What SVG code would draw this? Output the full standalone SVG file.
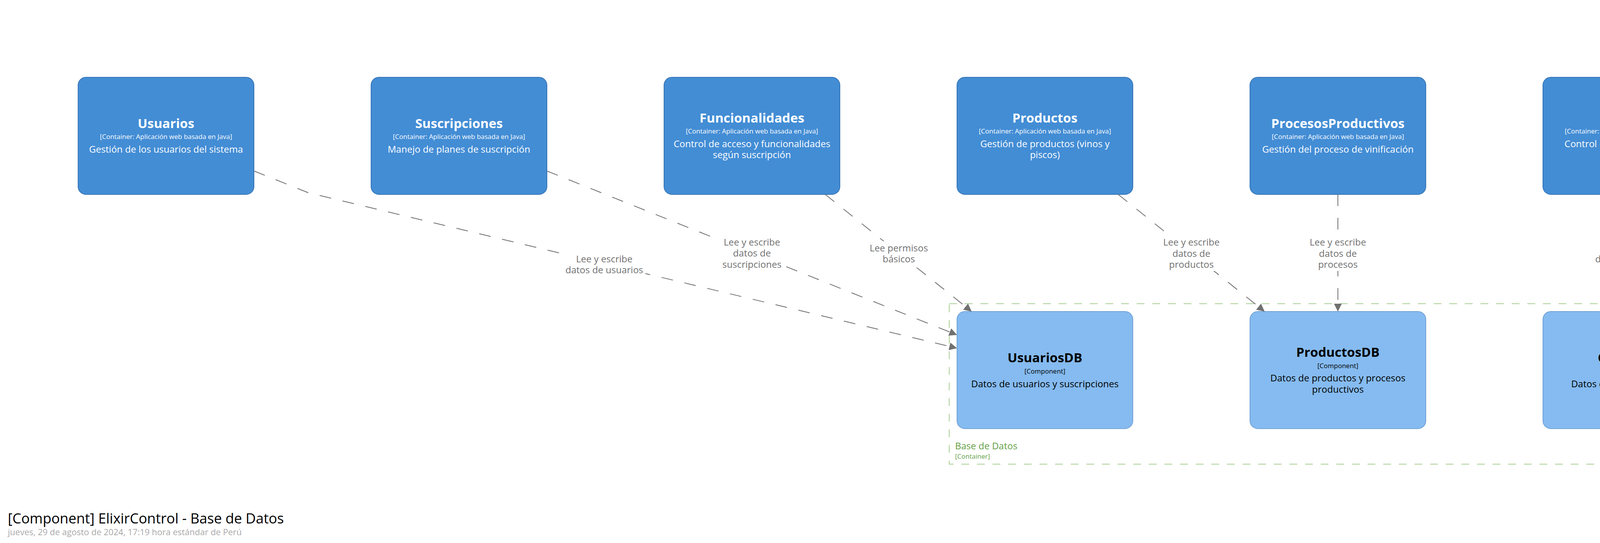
<svg xmlns="http://www.w3.org/2000/svg" width="6870" height="1391" viewBox="0 0 6870 1391">
<style>
text{font-family:"Open Sans","Liberation Sans",sans-serif}
.cont rect{fill:#438dd5;stroke:#3574b6;stroke-width:2}
.comp rect{fill:#85bbf0;stroke:#72a2d6;stroke-width:2}
.nm{font-size:33px;font-weight:bold;text-anchor:middle}
.mt{font-size:17px;text-anchor:middle}
.ds{font-size:24px;text-anchor:middle}
.cont text{fill:#ffffff}
.comp text{fill:#000000}
.edge{fill:none;stroke:#707070;stroke-width:2;stroke-dasharray:30,30}
.lbg{fill:#ffffff}
.lb{font-size:24px;fill:#707070;text-anchor:middle}
</style>
<defs>
<marker id="arr" markerUnits="userSpaceOnUse" markerWidth="20" markerHeight="20" viewBox="0 0 20 20" refX="20" refY="10" orient="auto">
<path d="M0,0 L20,10 L0,20 Z" fill="#707070"/>
</marker>
</defs>
<rect width="6870" height="1391" fill="#ffffff"/>

<g id="boundary-basededatos">
<rect x="2430" y="778" width="4240" height="411" fill="none" stroke="#a9cf93" stroke-width="2" stroke-dasharray="20,20"/>
<text x="2445" y="1151" font-size="24" fill="#62a146">Base de Datos</text>
<text x="2445" y="1175" font-size="17" fill="#62a146">[Container]</text>
</g>

<g id="usuarios" class="cont">
<rect x="200" y="198" width="450" height="300" rx="20"/>
<text class="nm" x="425" y="327.5">Usuarios</text>
<text class="mt" x="425" y="356.3">[Container: Aplicación web basada en Java]</text>
<text class="ds" x="425" y="390.7">Gestión de los usuarios del sistema</text>
</g>
<g id="suscripciones" class="cont">
<rect x="950" y="198" width="450" height="300" rx="20"/>
<text class="nm" x="1175" y="327.5">Suscripciones</text>
<text class="mt" x="1175" y="356.3">[Container: Aplicación web basada en Java]</text>
<text class="ds" x="1175" y="390.7">Manejo de planes de suscripción</text>
</g>
<g id="funcionalidades" class="cont">
<rect x="1700" y="198" width="450" height="300" rx="20"/>
<text class="nm" x="1925" y="313.5">Funcionalidades</text>
<text class="mt" x="1925" y="342.3">[Container: Aplicación web basada en Java]</text>
<text class="ds" x="1925" y="376.7">Control de acceso y funcionalidades</text>
<text class="ds" x="1925" y="404.9">según suscripción</text>
</g>
<g id="productos" class="cont">
<rect x="2450" y="198" width="450" height="300" rx="20"/>
<text class="nm" x="2675" y="313.5">Productos</text>
<text class="mt" x="2675" y="342.3">[Container: Aplicación web basada en Java]</text>
<text class="ds" x="2675" y="376.7">Gestión de productos (vinos y</text>
<text class="ds" x="2675" y="404.9">piscos)</text>
</g>
<g id="procesosproductivos" class="cont">
<rect x="3200" y="198" width="450" height="300" rx="20"/>
<text class="nm" x="3425" y="327.5">ProcesosProductivos</text>
<text class="mt" x="3425" y="356.3">[Container: Aplicación web basada en Java]</text>
<text class="ds" x="3425" y="390.7">Gestión del proceso de vinificación</text>
</g>
<g id="calidad" class="cont">
<rect x="3950" y="198" width="450" height="300" rx="20"/>
<text class="nm" x="4175" y="313.5">Calidad</text>
<text class="mt" x="4175" y="342.3">[Container: Aplicación web basada en Java]</text>
<text class="ds" x="4175" y="376.7">Control de calidad del proceso</text>
<text class="ds" x="4175" y="404.9">productivo</text>
</g>
<g id="ventas" class="cont">
<rect x="4700" y="198" width="450" height="300" rx="20"/>
<text class="nm" x="4925" y="327.5">Ventas</text>
<text class="mt" x="4925" y="356.3">[Container: Aplicación web basada en Java]</text>
<text class="ds" x="4925" y="390.7">Gestión de ventas</text>
</g>
<g id="proveedores" class="cont">
<rect x="5450" y="198" width="450" height="300" rx="20"/>
<text class="nm" x="5675" y="327.5">Proveedores</text>
<text class="mt" x="5675" y="356.3">[Container: Aplicación web basada en Java]</text>
<text class="ds" x="5675" y="390.7">Gestión de proveedores</text>
</g>
<g id="categorias" class="cont">
<rect x="6200" y="198" width="450" height="300" rx="20"/>
<text class="nm" x="6425" y="327.5">Categorias</text>
<text class="mt" x="6425" y="356.3">[Container: Aplicación web basada en Java]</text>
<text class="ds" x="6425" y="390.7">Gestión de categorías de productos</text>
</g>

<g id="usuariosdb" class="comp">
<rect x="2450" y="798" width="450" height="300" rx="20"/>
<text class="nm" x="2675" y="928">UsuariosDB</text>
<text class="mt" x="2675" y="956.5">[Component]</text>
<text class="ds" x="2675" y="991.5">Datos de usuarios y suscripciones</text>
</g>
<g id="productosdb" class="comp">
<rect x="3200" y="798" width="450" height="300" rx="20"/>
<text class="nm" x="3425" y="914">ProductosDB</text>
<text class="mt" x="3425" y="942.5">[Component]</text>
<text class="ds" x="3425" y="977.3">Datos de productos y procesos</text>
<text class="ds" x="3425" y="1005.5">productivos</text>
</g>
<g id="calidaddb" class="comp">
<rect x="3950" y="798" width="450" height="300" rx="20"/>
<text class="nm" x="4175" y="928">CalidadDB</text>
<text class="mt" x="4175" y="956.5">[Component]</text>
<text class="ds" x="4175" y="991.5">Datos de control de calidad</text>
</g>
<g id="ventasdb" class="comp">
<rect x="4700" y="798" width="450" height="300" rx="20"/>
<text class="nm" x="4925" y="928">VentasDB</text>
<text class="mt" x="4925" y="956.5">[Component]</text>
<text class="ds" x="4925" y="991.5">Datos de ventas e inventario</text>
</g>
<g id="proveedoresdb" class="comp">
<rect x="5450" y="798" width="450" height="300" rx="20"/>
<text class="nm" x="5675" y="928">ProveedoresDB</text>
<text class="mt" x="5675" y="956.5">[Component]</text>
<text class="ds" x="5675" y="991.5">Datos de proveedores</text>
</g>
<g id="categoriasdb" class="comp">
<rect x="6200" y="798" width="450" height="300" rx="20"/>
<text class="nm" x="6425" y="928">CategoriasDB</text>
<text class="mt" x="6425" y="956.5">[Component]</text>
<text class="ds" x="6425" y="991.5">Datos de categorías de productos</text>
</g>

<g id="connectors">
<path class="edge" d="M650,438 L790,494 L2450,892" marker-end="url(#arr)"/>
<path class="edge" d="M1400,438 L2450,858" marker-end="url(#arr)"/>
<path class="edge" d="M2112.5,498 L2487.5,798" marker-end="url(#arr)"/>
<path class="edge" d="M2862.5,498 L3237.5,798" marker-end="url(#arr)"/>
<path class="edge" d="M3425,498 L3425,798" marker-end="url(#arr)"/>
<path class="edge" d="M4175,498 L4175,798" marker-end="url(#arr)"/>
<path class="edge" d="M4925,498 L4925,798" marker-end="url(#arr)"/>
<path class="edge" d="M5675,498 L5675,798" marker-end="url(#arr)"/>
<path class="edge" d="M6425,498 L6425,798" marker-end="url(#arr)"/>

<rect class="lbg" x="1442" y="646" width="210" height="62"/>
<text class="lb" x="1547" y="671.5">Lee y escribe</text>
<text class="lb" x="1547" y="699.7">datos de usuarios</text>

<rect class="lbg" x="1844" y="603" width="162" height="90"/>
<text class="lb" x="1925" y="629">Lee y escribe</text>
<text class="lb" x="1925" y="657.3">datos de</text>
<text class="lb" x="1925" y="685.5">suscripciones</text>

<rect class="lbg" x="2221" y="618" width="160" height="62"/>
<text class="lb" x="2301" y="643.5">Lee permisos</text>
<text class="lb" x="2301" y="671.7">básicos</text>

<rect class="lbg" x="2972" y="604" width="156" height="90"/>
<text class="lb" x="3050" y="629.3">Lee y escribe</text>
<text class="lb" x="3050" y="657.5">datos de</text>
<text class="lb" x="3050" y="685.7">productos</text>

<rect class="lbg" x="3347" y="604" width="156" height="90"/>
<text class="lb" x="3425" y="629.3">Lee y escribe</text>
<text class="lb" x="3425" y="657.5">datos de</text>
<text class="lb" x="3425" y="685.7">procesos</text>

<rect class="lbg" x="4080" y="618" width="190" height="62"/>
<text class="lb" x="4175" y="643.5">Lee y escribe</text>
<text class="lb" x="4175" y="671.7">datos de calidad</text>

<rect class="lbg" x="4822" y="604" width="206" height="90"/>
<text class="lb" x="4925" y="629.3">Lee y escribe</text>
<text class="lb" x="4925" y="657.5">datos de ventas e</text>
<text class="lb" x="4925" y="685.7">inventario</text>

<rect class="lbg" x="5597" y="604" width="156" height="90"/>
<text class="lb" x="5675" y="629.3">Lee y escribe</text>
<text class="lb" x="5675" y="657.5">datos de</text>
<text class="lb" x="5675" y="685.7">proveedores</text>

<rect class="lbg" x="6347" y="604" width="156" height="90"/>
<text class="lb" x="6425" y="629.3">Lee y escribe</text>
<text class="lb" x="6425" y="657.5">datos de</text>
<text class="lb" x="6425" y="685.7">categorías</text>
</g>

<g id="title">
<text x="20" y="1341" font-size="36" fill="#000000">[Component] ElixirControl - Base de Datos</text>
<text x="20" y="1371" font-size="22" fill="#a8a8a8">jueves, 29 de agosto de 2024, 17:19 hora estándar de Perú</text>
</g>
</svg>
